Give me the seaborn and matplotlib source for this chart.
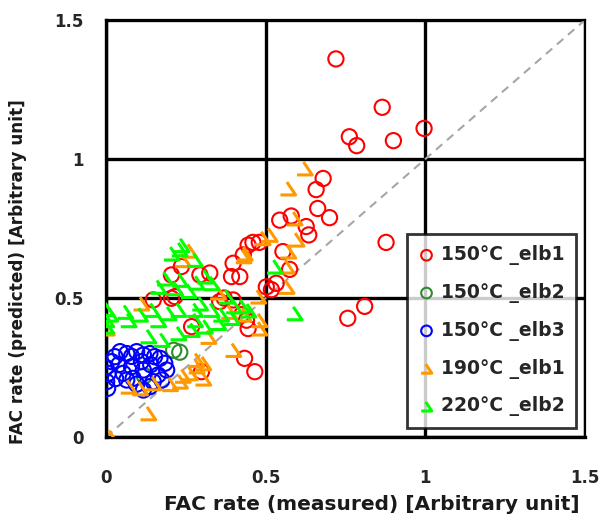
import numpy as np
import pandas as pd
import matplotlib.pyplot as plt
import seaborn as sns
from matplotlib.path import Path

# ---------------------------------------------------------------
# Dados lidos do gráfico (medido x previsto)
# ---------------------------------------------------------------
elb1_150_x = [0.72, 0.865, 0.762, 0.785, 0.90, 0.996, 0.68, 0.658, 0.663, 0.70, 0.627, 0.635,
              0.877, 0.81, 0.757, 0.544, 0.58, 0.46, 0.48, 0.554, 0.43, 0.445, 0.575, 0.398,
              0.393, 0.419, 0.502, 0.518, 0.533, 0.325, 0.356, 0.398, 0.37, 0.236, 0.294,
              0.205, 0.216, 0.148, 0.205, 0.434, 0.466, 0.44, 0.445, 0.268, 0.299, 0.425]
elb1_150_y = [1.36, 1.186, 1.08, 1.048, 1.066, 1.11, 0.93, 0.89, 0.822, 0.789, 0.757, 0.727,
              0.70, 0.47, 0.427, 0.78, 0.795, 0.70, 0.70, 0.667, 0.655, 0.69, 0.603, 0.625,
              0.577, 0.577, 0.54, 0.53, 0.553, 0.59, 0.487, 0.493, 0.50, 0.613, 0.583,
              0.583, 0.505, 0.493, 0.499, 0.283, 0.235, 0.42, 0.39, 0.397, 0.235, 0.44]

elb2_150_x = [0.231, 0.212, 0.12]
elb2_150_y = [0.305, 0.312, 0.22]

elb3_150_x = [0.007, 0.002, 0.0, 0.018, 0.028, 0.044, 0.065, 0.08, 0.096, 0.117, 0.1375,
              0.152, 0.169, 0.184, 0.19, 0.111, 0.117, 0.085, 0.054, 0.065, 0.096, 0.117,
              0.1375, 0.148, 0.163, 0.04, 0.08, 0.14, 0.005, 0.03, 0.175]
elb3_150_y = [0.229, 0.199, 0.25, 0.271, 0.289, 0.307, 0.30, 0.29, 0.307, 0.295, 0.30,
              0.289, 0.283, 0.265, 0.241, 0.271, 0.241, 0.211, 0.229, 0.205, 0.19, 0.169,
              0.181, 0.199, 0.223, 0.26, 0.253, 0.26, 0.175, 0.21, 0.205]

elb1_190_x = [0.622, 0.57, 0.59, 0.512, 0.49, 0.434, 0.57, 0.596, 0.43, 0.565, 0.565, 0.476,
              0.43, 0.48, 0.48, 0.398, 0.304, 0.304, 0.283, 0.262, 0.231, 0.283, 0.148, 0.106,
              0.07, 0.132, 0.0125, 0.002, 0.11, 0.24, 0.26, 0.35, 0.24, 0.20, 0.32, 0.385]
elb1_190_y = [0.966, 0.894, 0.786, 0.727, 0.715, 0.66, 0.667, 0.71, 0.65, 0.613, 0.54, 0.505,
              0.44, 0.42, 0.39, 0.313, 0.265, 0.21, 0.254, 0.229, 0.199, 0.277, 0.193, 0.175,
              0.181, 0.085, 0.0, 0.39, 0.48, 0.636, 0.67, 0.52, 0.22, 0.19, 0.36, 0.45]

elb2_220_x = [0.236, 0.23, 0.205, 0.278, 0.184, 0.231, 0.283, 0.163, 0.215, 0.258, 0.0125,
              0.06, 0.106, 0.163, 0.226, 0.278, 0.294, 0.31, 0.33, 0.377, 0.424, 0.445, 0.393,
              0.351, 0.309, 0.268, 0.226, 0.174, 0.132, 0.0, 0.0, 0.07, 0.528, 0.59, 0.143,
              0.195, 0.278, 0.33, 0.36, 0.40, 0.0]
elb2_220_y = [0.69, 0.675, 0.66, 0.637, 0.57, 0.565, 0.555, 0.54, 0.535, 0.525, 0.44,
              0.45, 0.44, 0.42, 0.457, 0.42, 0.48, 0.577, 0.553, 0.505, 0.47, 0.455, 0.428,
              0.41, 0.397, 0.385, 0.373, 0.349, 0.362, 0.42, 0.397, 0.42, 0.613, 0.445, 0.457,
              0.445, 0.457, 0.457, 0.44, 0.47, 0.46]

labels = ['150°C _elb1', '150°C _elb2', '150°C _elb3', '190°C _elb1', '220°C _elb2']
cores = ['#FF0000', '#2E8B2E', '#0000FF', '#FF9900', '#00FF00']

# marcador "triângulo sem lado esquerdo" (como no Excel)
tri_aberto = Path([(-0.15, 0.85), (1, -0.85), (-1, -0.85)],
                  [Path.MOVETO, Path.LINETO, Path.LINETO])
marcadores = ['o', 'o', 'o', tri_aberto, tri_aberto]
larguras = [1.5, 1.5, 1.5, 2.2, 2.2]

series = [(elb1_150_x, elb1_150_y), (elb2_150_x, elb2_150_y), (elb3_150_x, elb3_150_y),
          (elb1_190_x, elb1_190_y), (elb2_220_x, elb2_220_y)]

# ---------------------------------------------------------------
# Plot
# ---------------------------------------------------------------
sns.set_style('white')
plt.rcParams['font.family'] = ['DejaVu Sans']
plt.rcParams['font.weight'] = 'bold'

fig = plt.figure(figsize=(6.01, 5.15), dpi=100)
ax = fig.add_axes([106 / 601, 1 - 437 / 515, 479 / 601, 417 / 515])

ax.plot([0, 1.5], [0, 1.5], color='#A6A6A6', linestyle=(0, (4, 3)), linewidth=1.5, zorder=1)

for (xs, ys), lab, cor, mk, lw in zip(series, labels, cores, marcadores, larguras):
    df = pd.DataFrame({'x': xs, 'y': ys})
    sns.scatterplot(data=df, x='x', y='y', ax=ax, marker=mk, s=120, color=cor,
                    facecolor='none', edgecolor=cor, linewidth=lw, label=lab, zorder=3)

ax.set_xlim(0, 1.5)
ax.set_ylim(0, 1.5)
ticks = [0, 0.5, 1, 1.5]
ax.set_xticks(ticks)
ax.set_yticks(ticks)
ax.set_xticklabels(['0', '0.5', '1', '1.5'])
ax.set_yticklabels(['0', '0.5', '1', '1.5'])
ax.tick_params(axis='both', length=0, labelsize=12, labelcolor='#262626')
ax.tick_params(axis='x', pad=23)
ax.tick_params(axis='y', pad=16)

ax.grid(True, color='black', linewidth=2.4)
ax.set_axisbelow(True)
for lado in ['left', 'bottom']:
    ax.spines[lado].set_linewidth(2.4)
    ax.spines[lado].set_color('black')
for lado in ['top', 'right']:
    ax.spines[lado].set_linewidth(1.6)
    ax.spines[lado].set_color('black')

ax.set_xlabel('FAC rate (measured) [Arbitrary unit]', fontsize=14.5, fontweight='bold',
              color='#1a1a1a')
ax.set_ylabel('FAC rate (predicted) [Arbitrary unit]', fontsize=12.2, fontweight='bold',
              color='#1a1a1a')
ax.xaxis.set_label_coords(0.555, -0.138)
ax.yaxis.set_label_coords(-0.165, 0.396)

leg = ax.legend(loc='upper left', bbox_to_anchor=(0.628, 0.487), markerscale=0.7,
                fontsize=13.5, frameon=True, fancybox=False, handletextpad=0.3,
                handlelength=0.9, borderpad=0.6, labelspacing=0.95, borderaxespad=0)
leg.get_frame().set_edgecolor('black')
leg.get_frame().set_linewidth(2)
leg.set_zorder(5)

plt.savefig('out.png', dpi=100)
